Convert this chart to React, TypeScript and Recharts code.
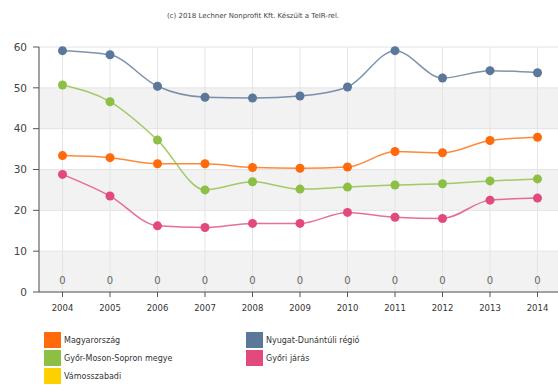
import React from "react";
import {
  CartesianGrid,
  LabelList,
  Line,
  LineChart,
  XAxis,
  YAxis,
} from "recharts";

const years = ["2004", "2005", "2006", "2007", "2008", "2009", "2010", "2011", "2012", "2013", "2014"];
const magyarorszag = [33.4, 32.9, 31.4, 31.4, 30.5, 30.3, 30.6, 34.4, 34.1, 37.1, 37.9];
const nyugatDunantul = [59.1, 58.1, 50.4, 47.7, 47.5, 48.0, 50.2, 59.1, 52.4, 54.2, 53.7];
const gyorMosonSopron = [50.7, 46.6, 37.2, 25.0, 27.0, 25.2, 25.7, 26.2, 26.5, 27.2, 27.7];
const gyoriJaras = [28.8, 23.5, 16.2, 15.8, 16.8, 16.8, 19.5, 18.3, 18.0, 22.5, 23.0];
const vamosszabadi = [0, 0, 0, 0, 0, 0, 0, 0, 0, 0, 0];
const yTicks = [0, 10, 20, 30, 40, 50, 60];

const series = [
  { key: "magyarorszag", name: "Magyarország", color: "#ff6b0a", values: magyarorszag },
  { key: "nyugat", name: "Nyugat-Dunántúli régió", color: "#5b7799", values: nyugatDunantul },
  { key: "gyms", name: "Győr-Moson-Sopron megye", color: "#8dbf44", values: gyorMosonSopron },
  { key: "gyori", name: "Győri járás", color: "#e24a7c", values: gyoriJaras },
  { key: "vamos", name: "Vámosszabadi", color: "#ffd000", values: vamosszabadi },
];

const data = years.map((y, i) => {
  const row: Record<string, number | string> = { year: y };
  series.forEach((s) => (row[s.key] = s.values[i]));
  return row;
});

// legend is laid out in two columns like the original
const legendLeft = [series[0], series[2], series[4]];
const legendRight = [series[1], series[3]];

const font = "'DejaVu Sans', Verdana, sans-serif";

const LegendItem = ({ name, color }: { name: string; color: string }) => (
  <div style={{ display: "flex", alignItems: "center", height: 18 }}>
    <div style={{ width: 17, height: 16, background: color, marginRight: 3 }} />
    <span style={{ fontSize: 8, color: "#333" }}>{name}</span>
  </div>
);

export default function App() {
  return (
    <div
      style={{
        position: "absolute",
        left: 0,
        top: 0,
        width: 558,
        height: 388,
        overflow: "hidden",
        background: "#fff",
        fontFamily: font,
      }}
    >
      <div
        style={{
          position: "absolute",
          top: 12,
          left: 0,
          width: 506,
          textAlign: "center",
          fontSize: 7,
          color: "#444",
        }}
      >
        (c) 2018 Lechner Nonprofit Kft. Készült a TeIR-rel.
      </div>
      <LineChart
        width={561}
        height={322}
        data={data}
        margin={{ top: 47, right: 0, left: 0, bottom: 0 }}
      >
        <CartesianGrid stroke="#e4e4e4" horizontalFill={["#ffffff", "#f2f2f2"]} fillOpacity={1} />
        <XAxis
          dataKey="year"
          height={30}
          padding={{ left: 23.5, right: 23.5 }}
          tickSize={5}
          tickMargin={8}
          tick={{ fontSize: 8.5, fill: "#333" }}
          axisLine={{ stroke: "#555" }}
          tickLine={{ stroke: "#555" }}
        />
        <YAxis
          width={39}
          domain={[0, 60]}
          ticks={yTicks}
          tickSize={6}
          tickMargin={6}
          tick={{ fontSize: 10.5, fill: "#444" }}
          axisLine={{ stroke: "#555" }}
          tickLine={{ stroke: "#555" }}
        />
        {series.slice(0, 4).map((s) => (
          <Line
            key={s.key}
            dataKey={s.key}
            name={s.name}
            type="monotone"
            stroke={s.color}
            strokeOpacity={0.8}
            strokeWidth={1.5}
            dot={{ r: 4.5, fill: s.color, stroke: s.color, strokeWidth: 0, fillOpacity: 1 }}
            isAnimationActive={false}
          />
        ))}
        <Line
          dataKey="vamos"
          name="Vámosszabadi"
          type="monotone"
          stroke="none"
          dot={false}
          isAnimationActive={false}
        >
          <LabelList dataKey="vamos" position="top" offset={8} style={{ fontSize: 10, fill: "#666" }} />
        </Line>
      </LineChart>
      <div style={{ position: "absolute", left: 44, top: 331 }}>
        {legendLeft.map((s) => (
          <LegendItem key={s.key} name={s.name} color={s.color} />
        ))}
      </div>
      <div style={{ position: "absolute", left: 246, top: 331 }}>
        {legendRight.map((s) => (
          <LegendItem key={s.key} name={s.name} color={s.color} />
        ))}
      </div>
    </div>
  );
}
